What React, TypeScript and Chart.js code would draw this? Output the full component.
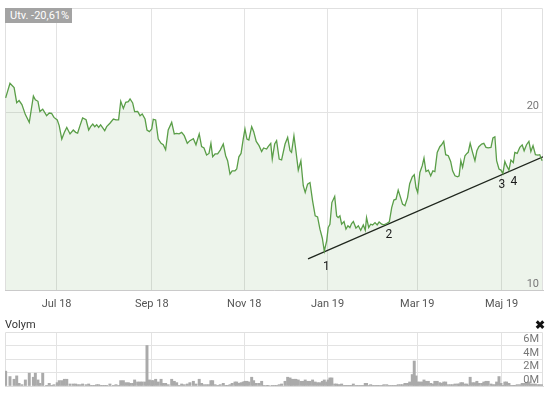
import React, { useEffect, useRef } from 'react';
import { Chart, registerables } from 'chart.js';

Chart.register(...registerables);

// trading-day index of each quote
const days = [
  0.3, 2.3, 4.2, 5.4, 6.5, 7.8, 9.4, 11.2, 13.1, 14.0,
  15.2, 16.1, 17.4, 19.2, 20.4, 21.5, 22.6, 24.1, 25.0, 26.2,
  27.4, 28.5, 30.0, 31.5, 32.6, 33.5, 34.6, 35.8, 37.4, 38.6,
  39.5, 40.5, 41.4, 42.3, 43.2, 44.1, 45.1, 46.0, 46.9, 48.4,
  50.0, 51.2, 52.4, 53.4, 54.6, 55.7, 56.9, 57.7, 58.9, 59.8,
  61.2, 62.3, 63.3, 64.6, 65.5, 66.6, 67.7, 68.4, 69.5, 70.7,
  72.0, 73.0, 74.1, 75.3, 76.9, 78.1, 79.2, 80.3, 81.5, 82.7,
  84.1, 85.3, 86.9, 88.1, 89.6, 90.7, 91.8, 93.0, 94.1, 95.0,
  95.8, 96.9, 98.1, 99.3, 100.7, 101.8, 102.7, 103.8, 104.8, 106.1,
  106.9, 107.9, 108.9, 109.9, 110.7, 111.6, 112.5, 113.8, 114.7, 115.9,
  117.2, 118.4, 119.3, 120.7, 121.4, 122.6, 123.3, 124.4, 125.3, 126.5,
  127.6, 129.2, 130.4, 131.5, 132.2, 133.3, 134.2, 135.3, 136.5, 137.6,
  138.5, 139.6, 140.7, 141.9, 143.1, 144.2, 145.3, 146.4, 147.3, 148.4,
  149.1, 149.9, 150.8, 152.1, 153.0, 153.7, 154.5, 155.3, 156.4, 157.3,
  158.2, 159.1, 159.9, 160.7, 161.9, 163.0, 164.1, 165.3, 166.2, 166.8,
  167.8, 168.7, 169.6, 170.7, 171.7, 172.6, 173.8, 174.8, 176.1, 177.3,
  178.4, 179.4, 180.4, 181.4, 182.5, 183.4, 184.5, 185.7, 186.7, 187.9,
  188.8, 189.6, 190.4, 191.4, 192.5, 193.3, 194.2, 195.3, 196.4, 197.4,
  198.3, 199.4, 200.6, 201.4, 202.4, 203.3, 204.5, 205.6, 206.5, 207.6,
  208.8, 209.5, 210.3, 211.1, 212.2, 213.1, 213.7, 214.6, 215.7, 216.8,
  217.7, 218.6, 219.9, 220.9, 221.9, 222.9, 224.2, 225.1, 226.0, 226.8,
  227.9, 228.8, 229.7, 230.6, 231.4, 232.5, 233.4, 234.5, 235.2, 236.3,
  237.5, 238.6, 239.5, 240.6, 241.7, 242.6, 243.6, 244.7, 245.9, 246.7,
  247.8,
];

const prices = [
  20.83, 21.66, 21.41, 20.56, 20.68, 20.45, 19.89, 19.45, 20.94, 20.73,
  20.64, 20.06, 20.19, 19.83, 19.98, 19.96, 19.73, 19.59, 19.27, 18.51,
  18.89, 19.17, 18.80, 19.02, 18.89, 18.85, 19.27, 19.70, 19.60, 19.02,
  19.21, 19.36, 19.21, 19.32, 19.17, 19.31, 19.14, 18.98, 19.21, 19.40,
  19.64, 19.59, 19.59, 20.64, 20.24, 20.58, 20.62, 20.77, 20.55, 20.06,
  20.07, 19.83, 19.93, 19.64, 19.02, 18.93, 19.08, 19.62, 19.59, 18.51,
  18.27, 18.19, 17.91, 19.02, 19.45, 18.80, 18.83, 18.80, 18.89, 18.70,
  18.27, 18.42, 18.53, 18.19, 18.80, 18.08, 18.01, 17.61, 17.70, 18.27,
  17.51, 17.67, 17.67, 17.89, 18.23, 17.57, 17.29, 16.54, 16.72, 16.72,
  16.82, 17.51, 17.70, 18.51, 19.08, 18.51, 18.46, 19.21, 18.94, 18.38,
  18.14, 17.81, 18.01, 17.95, 18.08, 18.27, 17.38, 18.23, 18.42, 17.38,
  17.33, 18.23, 18.60, 17.85, 17.76, 18.70, 17.85, 16.76, 17.29, 15.88,
  15.50, 15.97, 16.06, 15.03, 14.18, 14.12, 13.43, 12.92, 12.20, 12.77,
  13.52, 13.71, 14.93, 15.27, 14.18, 14.08, 14.18, 13.71, 13.86, 13.43,
  13.62, 13.52, 13.75, 13.86, 13.49, 13.62, 13.37, 13.67, 13.37, 14.08,
  13.52, 13.71, 13.67, 13.80, 13.67, 13.84, 13.71, 13.67, 13.75, 13.84,
  14.65, 15.07, 15.12, 15.63, 15.21, 14.84, 14.75, 15.21, 15.99, 16.38,
  16.50, 15.78, 15.50, 16.63, 17.01, 17.44, 16.68, 16.76, 16.44, 16.72,
  16.68, 17.76, 18.08, 18.19, 18.38, 17.63, 17.57, 17.25, 16.72, 16.44,
  16.38, 16.44, 17.29, 16.91, 17.57, 17.70, 17.76, 18.27, 17.76, 17.29,
  17.85, 18.08, 18.23, 18.27, 18.04, 18.01, 18.04, 18.57, 18.64, 17.29,
  16.82, 16.76, 16.57, 17.25, 17.01, 16.76, 17.33, 17.19, 17.76, 17.70,
  18.04, 18.18, 17.85, 18.19, 18.38, 17.81, 18.14, 17.63, 17.61, 17.63,
  17.29,
];

// volume in millions
const volumes = [
  2.2, 1.4, 1.0, 1.5, 0.4, 0.2, 0.9, 1.9, 1.3, 1.9,
  0.9, 0.4, 1.9, 0.1, 0.4, 0.1, 0.2, 0.5, 0.8, 0.8,
  1.0, 1.0, 0.3, 0.3, 0.3, 0.2, 0.2, 0.3, 0.2, 0.3,
  0.1, 0.1, 0.1, 0.2, 0.2, 0.1, 0.1, 0.1, 0.1, 0.3,
  0.1, 0.2, 0.1, 0.8, 0.8, 0.5, 0.5, 0.4, 0.4, 0.9,
  0.6, 0.6, 0.6, 0.6, 6.0, 0.9, 0.8, 0.8, 1.0, 0.6,
  1.0, 0.4, 0.4, 0.2, 1.0, 0.7, 0.5, 0.1, 0.3, 0.2,
  0.3, 0.5, 0.7, 0.3, 1.0, 0.4, 0.2, 0.2, 0.2, 0.8,
  0.8, 0.2, 0.1, 0.2, 0.4, 0.1, 0.1, 0.2, 0.4, 0.6,
  0.6, 0.4, 0.5, 0.6, 0.7, 0.7, 0.6, 1.3, 0.8, 0.4,
  0.4, 0.7, 0.1, 0.1, 0.1, 0.0, 0.1, 0.1, 0.1, 0.2,
  0.3, 0.7, 1.3, 1.2, 1.0, 1.0, 1.0, 0.9, 0.7, 0.7,
  0.9, 0.7, 0.7, 0.9, 0.6, 0.5, 0.5, 0.7, 0.9, 0.6,
  0.9, 1.2, 1.2, 0.3, 0.3, 0.2, 0.2, 0.3, 0.1, 0.1,
  0.1, 0.1, 0.1, 0.3, 0.1, 0.1, 0.1, 0.1, 0.4, 0.4,
  0.1, 0.2, 0.1, 0.1, 0.1, 0.1, 0.1, 0.2, 0.2, 0.1,
  0.1, 0.1, 0.1, 0.2, 0.2, 0.2, 0.4, 0.4, 0.6, 1.7,
  3.7, 1.5, 0.6, 0.6, 0.6, 0.9, 0.7, 0.7, 0.4, 0.3,
  0.7, 0.7, 0.5, 0.4, 0.6, 0.6, 0.2, 0.2, 0.2, 0.3,
  0.3, 0.3, 0.5, 0.5, 0.3, 0.3, 0.1, 1.3, 0.5, 0.5,
  0.7, 0.4, 0.4, 0.6, 0.7, 0.7, 0.3, 0.2, 0.2, 0.6,
  1.4, 0.4, 0.1, 0.6, 0.6, 0.4, 0.1, 0.1, 0.1, 0.2,
  0.2, 0.4, 0.4, 0.4, 0.6, 0.3, 0.3, 0.3, 0.2, 0.2,
  0.2,
];

const monthDays = [23.8, 67.7, 110.4, 148.8, 190.2, 229.1];
const monthLabels = ['Jul 18', 'Sep 18', 'Nov 18', 'Jan 19', 'Mar 19', 'Maj 19'];
const priceTicks = [10, 20];
const priceTickLabels = ['10', '20'];
const volumeTicks = [0, 2, 4, 6];
const volumeTickLabels = ['0M', '2M', '4M', '6M'];

const trendDays = [139.8, 248.2];
const trendValues = [11.75, 17.51];

const markLabels = ['1', '2', '3', '4'];
const markDays = [148.3, 177.1, 229.2, 234.8];
const markValues = [11.3, 13.08, 15.93, 16.1];

const changeText = 'Utv. -20,61%';
const volumeTitle = 'Volym';

const X_MIN = 0;
const X_MAX = 248.2;
const FONT = 'Roboto, "Liberation Sans", Arial, sans-serif';

const framePlugin = {
  id: 'frame',
  beforeDatasetsDraw(chart: any) {
    const { ctx, chartArea } = chart;
    ctx.save();
    ctx.strokeStyle = '#e0e0e0';
    ctx.lineWidth = 1;
    ctx.beginPath();
    ctx.moveTo(Math.round(chartArea.left) + 0.5, Math.round(chartArea.bottom));
    ctx.lineTo(Math.round(chartArea.left) + 0.5, Math.round(chartArea.top) + 0.5);
    ctx.lineTo(Math.round(chartArea.right) - 0.5, Math.round(chartArea.top) + 0.5);
    ctx.lineTo(Math.round(chartArea.right) - 0.5, Math.round(chartArea.bottom));
    ctx.stroke();
    ctx.restore();
  },
};

// right-aligned value labels drawn just above their grid lines, inside the plot
const makeAxisLabelPlugin = (values: number[], labels: string[]) => ({
  id: 'axisLabels',
  afterDraw(chart: any) {
    const { ctx, chartArea, scales } = chart;
    ctx.save();
    ctx.fillStyle = '#777';
    ctx.font = `11px ${FONT}`;
    ctx.textAlign = 'right';
    ctx.textBaseline = 'bottom';
    values.forEach((v, i) => {
      ctx.fillText(labels[i], chartArea.right - 4, scales.y.getPixelForValue(v) - 0.5);
    });
    ctx.restore();
  },
});

const marksPlugin = {
  id: 'marks',
  afterDatasetsDraw(chart: any) {
    const { ctx, scales } = chart;
    ctx.save();
    ctx.fillStyle = '#1a1a1a';
    ctx.font = `12px ${FONT}`;
    ctx.textAlign = 'center';
    ctx.textBaseline = 'middle';
    markLabels.forEach((t, i) => {
      ctx.fillText(t, scales.x.getPixelForValue(markDays[i]), scales.y.getPixelForValue(markValues[i]));
    });
    ctx.restore();
  },
};

export default function App() {
  const priceRef = useRef<HTMLCanvasElement>(null);
  const volRef = useRef<HTMLCanvasElement>(null);

  useEffect(() => {
    const monthTicks = (s: any) => {
      s.ticks = monthDays.map((v) => ({ value: v }));
    };

    const priceChart = new Chart(priceRef.current as HTMLCanvasElement, {
      type: 'line',
      data: {
        datasets: [
          {
            data: days.map((d, i) => ({ x: d, y: prices[i] })),
            borderColor: '#5a9e48',
            borderWidth: 1.3,
            backgroundColor: 'rgba(80,150,60,0.1)',
            fill: 'start',
            pointRadius: 0,
            tension: 0,
          },
          {
            data: trendDays.map((d, i) => ({ x: d, y: trendValues[i] })),
            borderColor: '#1a1a1a',
            borderWidth: 1.3,
            fill: false,
            pointRadius: 0,
          },
        ],
      },
      options: {
        animation: false,
        responsive: false,
        events: [],
        layout: { padding: { left: 5, right: 6, top: 8, bottom: 0 } },
        plugins: { legend: { display: false }, tooltip: { enabled: false } },
        scales: {
          x: {
            type: 'linear',
            min: X_MIN,
            max: X_MAX,
            afterBuildTicks: monthTicks,
            afterFit: (s: any) => {
              s.height = 25;
            },
            ticks: {
              autoSkip: false,
              maxRotation: 0,
              padding: 8,
              color: '#555',
              font: { size: 11, family: FONT },
              callback: (_v: any, i: number) => monthLabels[i],
            },
            grid: { color: '#e3e3e3', drawTicks: false },
            border: { display: true, color: '#cacaca' },
          },
          y: {
            type: 'linear',
            position: 'right',
            min: 10,
            max: 25.9,
            afterBuildTicks: (s: any) => {
              s.ticks = priceTicks.map((v) => ({ value: v }));
            },
            afterFit: (s: any) => {
              s.width = 0;
            },
            ticks: { display: false },
            grid: { color: '#e3e3e3', drawTicks: false },
            border: { display: false },
          },
        },
      } as any,
      plugins: [framePlugin, marksPlugin, makeAxisLabelPlugin(priceTicks, priceTickLabels)],
    });

    const volChart = new Chart(volRef.current as HTMLCanvasElement, {
      type: 'bar',
      data: {
        datasets: [
          {
            data: days.map((d, i) => ({ x: d, y: volumes[i] })),
            backgroundColor: '#aaaaaa',
            borderWidth: 0,
            barThickness: 2.3,
          },
        ],
      },
      options: {
        animation: false,
        responsive: false,
        events: [],
        layout: { padding: { left: 5, right: 6, top: 12, bottom: 10 } },
        plugins: { legend: { display: false }, tooltip: { enabled: false } },
        scales: {
          x: {
            type: 'linear',
            min: X_MIN,
            max: X_MAX,
            offset: false,
            afterBuildTicks: monthTicks,
            afterFit: (s: any) => {
              s.height = 0;
            },
            ticks: { display: false },
            grid: { color: '#e3e3e3', drawTicks: false, offset: false },
            border: { display: true, color: '#dcdcdc' },
          },
          y: {
            type: 'linear',
            position: 'right',
            min: 0,
            max: 8,
            afterBuildTicks: (s: any) => {
              s.ticks = volumeTicks.map((v) => ({ value: v }));
            },
            afterFit: (s: any) => {
              s.width = 0;
            },
            ticks: { display: false },
            grid: { color: '#e3e3e3', drawTicks: false },
            border: { display: false },
          },
        },
      } as any,
      plugins: [framePlugin, makeAxisLabelPlugin(volumeTicks, volumeTickLabels)],
    });

    return () => {
      priceChart.destroy();
      volChart.destroy();
    };
  }, []);

  return (
    <div
      style={{
        position: 'fixed',
        left: 0,
        top: 0,
        width: 549,
        height: 396,
        background: '#fff',
        fontFamily: FONT,
        overflow: 'hidden',
      }}
    >
      <canvas ref={priceRef} width={549} height={315} style={{ position: 'absolute', left: 0, top: 0 }} />
      <canvas ref={volRef} width={549} height={76} style={{ position: 'absolute', left: 0, top: 320 }} />
      <div
        style={{
          position: 'absolute',
          left: 5,
          top: 8,
          width: 67,
          height: 15,
          lineHeight: '15px',
          fontSize: 11,
          color: '#fff',
          background: '#a3a3a3',
          paddingLeft: 5,
          boxSizing: 'border-box',
          whiteSpace: 'nowrap',
        }}
      >
        {changeText}
      </div>
      <div style={{ position: 'absolute', left: 5, top: 318, fontSize: 11, lineHeight: '14px', color: '#333' }}>
        {volumeTitle}
      </div>
      <div
        style={{
          position: 'absolute',
          left: 535,
          top: 317,
          fontSize: 12,
          lineHeight: '16px',
          fontWeight: 'bold',
          color: '#111',
        }}
      >
        ✖
      </div>
    </div>
  );
}
